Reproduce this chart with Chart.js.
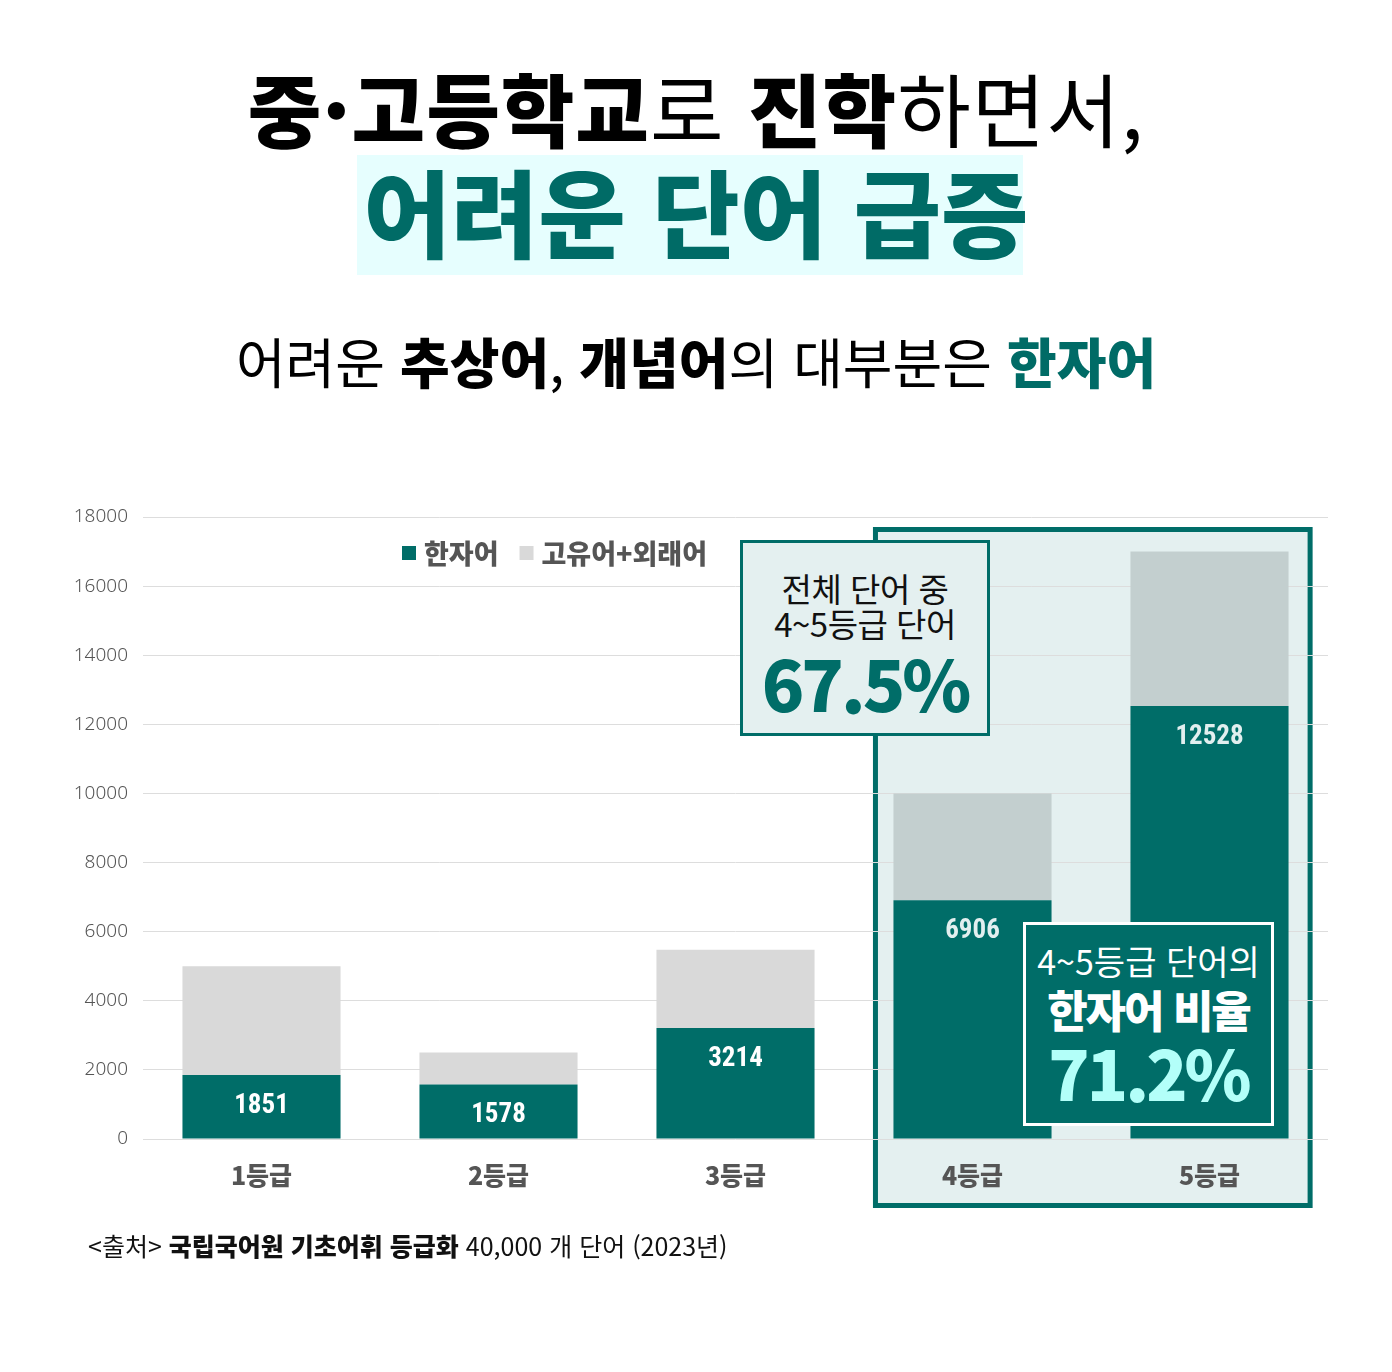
<!DOCTYPE html>
<html lang="ko"><head><meta charset="utf-8">
<script src="https://cdn.jsdelivr.net/npm/chart.js@4.4.1/dist/chart.umd.min.js"></script>
<style>
html,body{margin:0;padding:0;background:#fff;}
body{width:1392px;height:1372px;position:relative;overflow:hidden;font-family:"Noto Sans CJK KR","Noto Sans",sans-serif;}
.t{position:absolute;left:0;width:1392px;text-align:center;white-space:nowrap;line-height:1;}
.b{font-weight:900;}
.r{font-weight:400;}
#chartWrap{position:absolute;left:0;top:480px;width:1392px;height:760px;}
.box{position:absolute;box-sizing:border-box;}
.box span{position:absolute;left:0;width:100%;text-align:center;white-space:nowrap;line-height:1;}
</style>
</head><body>
<div class="t" style="top:66px;font-size:80px;letter-spacing:1px;color:#000;">
<span class="b">중·고등학교</span><span class="r">로 </span><span class="b">진학</span><span class="r">하면서,</span></div>
<div style="position:absolute;left:357px;top:155px;width:666px;height:120px;background:#E6FEFE;"></div>
<div class="t b" style="top:162px;font-size:95px;letter-spacing:0px;color:#006B66;">어려운 단어 급증</div>
<div class="t" style="top:334px;font-size:54px;letter-spacing:0px;color:#000;">
<span class="r">어려운 </span><span class="b">추상어</span><span class="r">, </span><span class="b">개념어</span><span class="r">의 대부분은 </span><span class="b" style="color:#006B66;">한자어</span></div>

<div id="chartWrap"><canvas id="c"></canvas></div>

<div class="box" style="left:740px;top:540px;width:250px;height:196px;border:3px solid #006D68;background:#E4F0F0;">
<span style="top:29px;font-size:33px;letter-spacing:-0.5px;color:#111;">전체 단어 중</span>
<span style="top:64px;font-size:33px;letter-spacing:-0.5px;color:#111;">4~5등급 단어</span>
<span style="top:104px;font-size:70px;font-weight:900;letter-spacing:-3px;color:#006D68;">67.5%</span>
</div>
<div class="box" style="left:1023px;top:922px;width:251px;height:204px;border:3px solid #fff;background:#006D68;">
<span style="top:19px;font-size:34px;letter-spacing:0px;color:#fff;">4~5등급 단어의</span>
<span style="top:62px;font-size:44px;font-weight:900;letter-spacing:-2px;color:#fff;">한자어 비율</span>
<span style="top:113px;font-size:68px;font-weight:900;letter-spacing:-3px;color:#B3FFF9;">71.2%</span>
</div>

<div style="position:absolute;left:88px;top:1233px;font-size:25px;line-height:1;letter-spacing:0px;color:#111;white-space:nowrap;">
<span class="r">&lt;출처&gt; </span><span class="b">국립국어원 기초어휘 등급화</span><span class="r"> 40,000 개 단어 (2023년)</span></div>

<script>
const categories = ['1등급','2등급','3등급','4등급','5등급'];
const hanjaValues = [1851, 1578, 3214, 6906, 12528];
const otherValues = [3149, 922, 2266, 3094, 4472];
const seriesLabels = ['한자어','고유어+외래어'];
const yTickMax = 18000;
const yTickStep = 2000;
const highlightFrom = 3; // 4등급~5등급

const TEAL = '#006D68';
const otherColors = categories.map((c,i)=> i>=highlightFrom ? '#C3CFCF' : '#D9D9D9');
const labelColors = categories.map((c,i)=> i>=highlightFrom ? '#E2EFEF' : '#FFFFFF');

const highlightPlugin = {
  id:'highlight',
  beforeDraw(chart){
    const {ctx, scales:{x,y}, chartArea} = chart;
    const step = x.getPixelForValue(1) - x.getPixelForValue(0);
    const left = x.getPixelForValue(highlightFrom) - step*0.42;
    const right = x.getPixelForValue(categories.length-1) + step*0.435;
    const top = y.getPixelForValue(yTickMax) + 10;
    const bottom = chartArea.bottom + 69;
    ctx.save();
    ctx.fillStyle = '#E4F0F0';
    ctx.fillRect(left, top, right-left, bottom-top);
    ctx.lineWidth = 5;
    ctx.strokeStyle = TEAL;
    ctx.strokeRect(left+2.5, top+2.5, right-left-5, bottom-top-5);
    ctx.restore();
  }
};

const labelPlugin = {
  id:'barLabels',
  afterDatasetsDraw(chart){
    const {ctx} = chart;
    const meta = chart.getDatasetMeta(0);
    ctx.save();
    ctx.font = 'bold 27px "Liberation Sans Narrow","Roboto Condensed","Liberation Sans",Arial,sans-serif';
    ctx.textAlign = 'center';
    ctx.textBaseline = 'middle';
    meta.data.forEach((el,i)=>{
      const h = el.base - el.y;
      const ly = el.y + Math.min(h/2 + 1, 28) + 3;
      ctx.fillStyle = labelColors[i];
      ctx.fillText(String(hanjaValues[i]), el.x, ly);
    });
    ctx.restore();
  }
};

const legendPlugin = {
  id:'customLegend',
  afterDraw(chart){
    const {ctx, chartArea} = chart;
    let xPos = chartArea.left + 259;
    const yMid = chartArea.top + 36;
    ctx.save();
    ctx.font = '900 27px "Noto Sans CJK KR",sans-serif';
    ctx.textBaseline = 'middle';
    ctx.textAlign = 'left';
    chart.data.datasets.forEach((ds,i)=>{
      const col = Array.isArray(ds.backgroundColor) ? '#D9D9D9' : ds.backgroundColor;
      ctx.fillStyle = col;
      ctx.fillRect(xPos, yMid-7, 14, 14);
      xPos += 22;
      ctx.fillStyle = '#555555';
      try{ ctx.letterSpacing = '0px'; }catch(e){}
      ctx.fillText(ds.label, xPos, yMid+1);
      xPos += ctx.measureText(ds.label).width + 21;
    });
    ctx.restore();
  }
};

new Chart(document.getElementById('c'), {
  type:'bar',
  data:{
    labels:categories,
    datasets:[
      {label:seriesLabels[0], data:hanjaValues, backgroundColor:TEAL, barPercentage:1, categoryPercentage:0.667},
      {label:seriesLabels[1], data:otherValues, backgroundColor:otherColors, barPercentage:1, categoryPercentage:0.667}
    ]
  },
  options:{
    responsive:true,
    maintainAspectRatio:false,
    animation:false,
    layout:{padding:{left:0,right:64,top:37,bottom:37}},
    plugins:{legend:{display:false},tooltip:{enabled:false}},
    scales:{
      x:{
        stacked:true,
        grid:{display:false},
        border:{display:false},
        ticks:{padding:13,color:'#555555',font:{family:'"Noto Sans CJK KR",sans-serif',size:25,weight:'900'}}
      },
      y:{
        stacked:true,
        min:0,max:yTickMax,
        afterFit(scale){scale.width = 143;},
        grid:{color:'#DDDDDD',drawTicks:false,lineWidth:1},
        border:{display:false},
        ticks:{stepSize:yTickStep,padding:15,color:'#555555',
          callback:(v)=>String(v),
          font:{family:'"Noto Sans","Noto Sans CJK KR",sans-serif',size:19,weight:'300'}}
      }
    }
  },
  plugins:[highlightPlugin,labelPlugin,legendPlugin]
});
</script>
</body></html>
